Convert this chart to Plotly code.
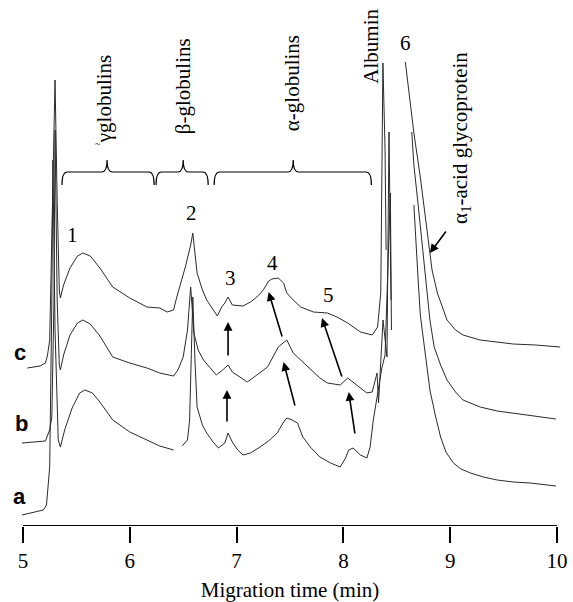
import plotly.graph_objects as go

# ---- data (migration time in min, detector signal in arbitrary units, traces stacked) ----
time_a = [4.99, 5.19, 5.22, 5.25, 5.27, 5.28, 5.30, 5.33, 5.35, 5.39, 5.46, 5.53, 5.58, 5.65, 5.72, 5.84, 6.00, 6.16, 6.28, 6.41,
          None,
          6.49, 6.54, 6.56, 6.59, 6.61, 6.63, 6.68, 6.72, 6.78, 6.83, 6.89, 6.92, 6.96, 7.01, 7.06, 7.13, 7.22, 7.31, 7.38, 7.44,
          7.47, 7.52, 7.57, 7.62, 7.69, 7.78, 7.88, 7.97, 8.02, 8.05, 8.09, 8.16, 8.22, 8.25, 8.28, 8.31, 8.34, 8.36, 8.39, 8.42,
          8.44, 8.45,
          None,
          8.66, 8.68, 8.70, 8.72, 8.75, 8.78, 8.81, 8.86, 8.91, 8.96, 9.03, 9.10, 9.19, 9.31, 9.44, 9.59, 9.75, 9.99]
sig_a = [11, 16, 21, 59, 226, 366, 196, 86, 79, 96, 118, 133, 136, 133, 124, 106, 94, 86, 80, 76,
         None,
         80, 86, 106, 229, 166, 119, 101, 93, 84, 78, 83, 93, 84, 76, 71, 73, 79, 86, 93, 104,
         108, 106, 103, 89, 79, 69, 63, 59, 68, 76, 78, 71, 68, 79, 106, 126, 146, 158, 171, 276,
         333, 196,
         None,
         321, 276, 246, 211, 186, 161, 136, 111, 89, 74, 63, 57, 53, 49, 46, 44, 43, 40]

time_b = [4.99, 5.11, 5.21, 5.25, 5.27, 5.29, 5.30, 5.32, 5.34, 5.35, 5.38, 5.44, 5.51, 5.56, 5.63, 5.72, 5.84, 6.00, 6.16, 6.28,
          6.41, 6.45, 6.50, 6.54, 6.57, 6.60, 6.64, 6.69, 6.75, 6.81, 6.87, 6.92, 6.96, 7.04, 7.10, 7.19, 7.29, 7.39, 7.47, 7.53,
          7.60, 7.69, 7.78, 7.85, 7.97, 8.04, 8.09, 8.16, 8.22, 8.27, 8.315, 8.329, 8.371, 8.408, 8.427, 8.446,
          None,
          8.64, 8.66, 8.70, 8.74, 8.78, 8.81, 8.85, 8.91, 8.97, 9.05, 9.12, 9.28, 9.44, 9.59, 9.80, 9.99]
sig_b = [83, 84, 85, 96, 109, 226, 396, 226, 161, 156, 171, 191, 203, 206, 202, 190, 169, 163, 158, 153,
         150, 156, 169, 196, 239, 193, 176, 166, 158, 151, 156, 161, 154, 148, 144, 151, 159, 179, 186, 173,
         166, 156, 148, 143, 141, 148, 144, 138, 133, 134, 153, 123, 206, 169, 394, 226,
         None,
         394, 361, 321, 281, 241, 206, 179, 161, 146, 134, 126, 119, 115, 113, 110, 107]

time_c = [5.04, 5.16, 5.21, 5.23, 5.25, 5.28, 5.30, 5.32, 5.34, 5.35, 5.38, 5.44, 5.51, 5.56, 5.63, 5.72, 5.84, 6.00, 6.16, 6.28,
          6.35, 6.41, 6.44, 6.52, 6.57, 6.59, 6.63, 6.68, 6.72, 6.77, 6.82, 6.86, 6.89, 6.92, 6.96, 7.06, 7.13, 7.19, 7.25, 7.30,
          7.33, 7.39, 7.44, 7.47, 7.53, 7.60, 7.72, 7.85, 7.94, 8.04, 8.16, 8.27, 8.32, 8.35, 8.37, 8.39, 8.40,
          None,
          8.58, 8.62, 8.66, 8.72, 8.79, 8.83, 8.88, 8.97, 9.05, 9.12, 9.28, 9.44, 9.59, 9.80, 10.03]
sig_c = [158, 160, 163, 171, 186, 326, 446, 326, 236, 228, 241, 258, 270, 273, 270, 258, 239, 228, 219, 218,
         214, 216, 229, 259, 281, 293, 253, 236, 226, 218, 210, 219, 223, 229, 221, 220, 224, 229, 236, 245,
         247, 248, 243, 233, 226, 219, 214, 213, 209, 203, 194, 191, 199, 233, 463, 376, 276,
         None,
         464, 426, 393, 349, 293, 256, 233, 206, 196, 191, 186, 184, 182, 181, 179]

trace_names = ["a", "b", "c"]
trace_label_pos = [(4.97, 30), (4.99, 103), (4.97, 174)]

tick_vals = [5, 6, 7, 8, 9, 10]
tick_text = ["5", "6", "7", "8", "9", "10"]

peak_labels = ["1", "2", "3", "4", "5", "6"]
peak_label_pos = [(5.46, 291), (6.58, 313), (6.94, 248), (7.34, 263), (7.86, 231), (8.58, 483)]

# fraction brackets: (left, tip, right) in min
bracket_x = [(5.365, 5.787, 6.228), (6.246, 6.50, 6.734), (6.790, 7.530, 8.262)]
bracket_y = (341, 354, 366)  # end, bar, tip
fraction_labels = ["γglobulins", "β-globulins", "α-globulins", "Albumin", "α<sub>1</sub>-acid glycoprotein"]
fraction_label_pos = [(5.76, 427), (6.50, 440), (7.52, 443), (8.255, 480), (9.10, 388)]

# arrows: (head_x, head_y, tail_x, tail_y)
arrows = [(6.92, 204, 6.92, 169), (6.91, 136, 6.91, 103),
          (7.30, 234, 7.43, 188), (7.44, 164, 7.55, 119),
          (7.80, 208, 7.99, 148), (8.05, 134, 8.11, 91),
          (8.81, 273, 8.97, 296)]

SERIF = "Liberation Serif, Times New Roman, serif"
SANS = "Liberation Sans, Arial, sans-serif"

fig = go.Figure()
for t, s in [(time_a, sig_a), (time_b, sig_b), (time_c, sig_c)]:
    fig.add_trace(go.Scatter(x=t, y=s, mode="lines", connectgaps=False,
                             line=dict(color="#2a2a2a", width=1), showlegend=False, hoverinfo="skip"))

annotations = []
for name, (x, y) in zip(trace_names, trace_label_pos):
    annotations.append(dict(x=x, y=y, text="<b>%s</b>" % name, showarrow=False,
                            font=dict(family=SANS, size=22, color="black"), xanchor="center", yanchor="middle"))
for lab, (x, y) in zip(peak_labels, peak_label_pos):
    annotations.append(dict(x=x, y=y, text=lab, showarrow=False,
                            font=dict(family=SERIF, size=21, color="black"), xanchor="center", yanchor="middle"))
for lab, (x, y) in zip(fraction_labels, fraction_label_pos):
    annotations.append(dict(x=x, y=y, text=lab, showarrow=False, textangle=-90,
                            font=dict(family=SERIF, size=21, color="black"), xanchor="center", yanchor="middle"))
annotations.append(dict(x=5.70, y=383, text="~", showarrow=False,
                        font=dict(family=SERIF, size=10, color="black")))
for hx, hy, tx, ty in arrows:
    annotations.append(dict(x=hx, y=hy, ax=tx, ay=ty, axref="x", ayref="y", xref="x", yref="y",
                            showarrow=True, arrowhead=2, arrowsize=1.1, arrowwidth=1.6,
                            arrowcolor="black", text=""))

shapes = []
r = 0.05
ye, yb, yt = bracket_y
for x0, xm, x1 in bracket_x:
    path = (f"M {x0},{ye} Q {x0},{yb} {x0 + r},{yb} L {xm - r},{yb} Q {xm},{yb} {xm},{yt} "
            f"Q {xm},{yb} {xm + r},{yb} L {x1 - r},{yb} Q {x1},{yb} {x1},{ye}")
    shapes.append(dict(type="path", path=path, xref="x", yref="y", line=dict(color="black", width=1.2)))
# axis baseline from 5 to 10
shapes.append(dict(type="line", x0=tick_vals[0], x1=tick_vals[-1], y0=0, y1=0, xref="x", yref="y",
                   line=dict(color="black", width=1.8)))

fig.update_layout(
    width=573, height=602,
    margin=dict(l=18, r=11, t=0, b=76),
    paper_bgcolor="white", plot_bgcolor="white",
    annotations=annotations, shapes=shapes,
    xaxis=dict(range=[4.9532, 10.0468], showgrid=False, zeroline=False, showline=False,
               tickmode="array", tickvals=tick_vals, ticktext=tick_text,
               ticks="outside", ticklen=16, tickwidth=1.8, tickcolor="black",
               tickfont=dict(family=SERIF, size=21, color="black"),
               title=dict(text="Migration time (min)", font=dict(family=SERIF, size=21, color="black"), standoff=12)),
    yaxis=dict(range=[0, 526], visible=False, fixedrange=True),
)

fig.write_html("out.html", config={"displayModeBar": False},
               post_script="document.body.style.margin='0px';document.body.style.overflow='hidden';")
